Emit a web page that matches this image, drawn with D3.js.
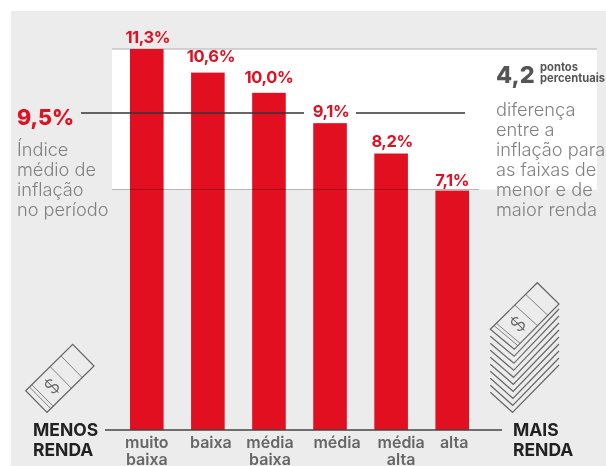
<!DOCTYPE html>
<html>
<head>
<meta charset="utf-8">
<script src="https://cdn.jsdelivr.net/npm/d3@7"></script>
<style>
  html, body { margin: 0; padding: 0; background: #fff; }
  svg { display: block; font-family: Inter, sans-serif; filter: blur(0.35px); }
</style>
</head>
<body>
<div id="chart"></div>
<script>
const categories = ["muito baixa", "baixa", "média baixa", "média", "média alta", "alta"];
const values = [11.3, 10.6, 10.0, 9.1, 8.2, 7.1];
const valueLabels = ["11,3%", "10,6%", "10,0%", "9,1%", "8,2%", "7,1%"];
const averageLabel = "9,5%";
const averageLineLevel = 9.4; // where the line sits in the picture
const averageText = ["Índice", "médio de", "inflação", "no período"];
const gapText = ["diferença", "entre a", "inflação para", "as faixas de", "menor e de", "maior renda"];

const red = "#e20f20";
const width = 606, height = 466;
const baseY = 430;

const svg = d3.select("#chart").append("svg")
  .attr("width", width)
  .attr("height", height);

const x = d3.scaleBand().domain(categories).range([130, 469]).paddingInner(0.45).paddingOuter(0);
const y = d3.scaleLinear().domain([0, 11.3]).range([baseY, 49]);

// backgrounds
svg.append("rect").attr("x", 11).attr("y", 11).attr("width", 595).attr("height", 455).attr("fill", "#ececec");
svg.append("rect").attr("x", 112).attr("y", y(11.3)).attr("width", 485).attr("height", y(7.1) - y(11.3) - 1).attr("fill", "#fff");
svg.append("line").attr("x1", 112).attr("x2", 597).attr("y1", 49).attr("y2", 49).attr("stroke", "#c6c6c6").attr("stroke-width", 1.5);

// bars
svg.selectAll("rect.bar").data(values).join("rect")
  .attr("class", "bar")
  .attr("x", (d, i) => x(categories[i]))
  .attr("y", d => y(d))
  .attr("width", x.bandwidth())
  .attr("height", d => baseY - y(d))
  .attr("fill", red);

// lower edge of the white band
svg.append("line").attr("x1", 112).attr("x2", 479).attr("y1", 189.5).attr("y2", 189.5)
  .attr("stroke", "#000").attr("stroke-opacity", 0.27).attr("stroke-width", 1.2);

// average line, broken around the 9,1% label
[[81, 304], [356, 465]].forEach(([a, b]) => {
  svg.append("line").attr("x1", a).attr("x2", b).attr("y1", y(averageLineLevel)).attr("y2", y(averageLineLevel))
    .attr("stroke", "#333").attr("stroke-width", 1.4);
});

// value labels, each one sits a little differently over its bar
const valueNudgeX = [1, 3, 0, 1, 1, 0];
const valueNudgeY = [6, 11, 10, 6.5, 6.5, 4.5];
svg.selectAll("text.val").data(values).join("text")
  .attr("class", "val")
  .attr("x", (d, i) => x(categories[i]) + x.bandwidth() / 2 + valueNudgeX[i])
  .attr("y", (d, i) => y(d) - valueNudgeY[i])
  .attr("text-anchor", "middle")
  .attr("font-size", 16.5)
  .attr("font-weight", 700)
  .attr("letter-spacing", -0.4)
  .attr("fill", red)
  .text((d, i) => valueLabels[i]);

// axis
const axis = d3.axisBottom(x).tickSize(0).tickPadding(0);
const axisG = svg.append("g").attr("transform", `translate(0,${baseY})`).call(axis);
axisG.select(".domain").remove();
svg.append("line").attr("x1", 105).attr("x2", 502).attr("y1", baseY).attr("y2", baseY).attr("stroke", "#444").attr("stroke-width", 1.5);

const labelNudge = [0, 3, 1, 7, 10, 2];
axisG.selectAll(".tick text").each(function (d, i) {
  const t = d3.select(this).attr("y", null).attr("dy", null).text(null)
    .attr("font-family", "Inter, sans-serif").attr("font-size", 16).attr("font-weight", 600).attr("fill", "#666");
  d.split(" ").forEach((w, k) => {
    t.append("tspan").attr("x", labelNudge[i]).attr("y", 18 + k * 17).text(w);
  });
});

function textBlock(lines, px, py, lh, size, weight, color, anchor) {
  svg.append("g").selectAll("text").data(lines).join("text")
    .attr("x", px)
    .attr("y", (d, i) => py + i * lh)
    .attr("font-size", size)
    .attr("font-weight", weight)
    .attr("fill", color)
    .attr("text-anchor", anchor || "start")
    .text(d => d);
}

textBlock([averageLabel], 17, 125, 0, 21.5, 800, red);
textBlock(averageText, 17, 156, 20, 18.2, 300, "#808080");
textBlock(["4,2"], 496, 83, 0, 23.5, 800, "#555");
textBlock(["pontos", "percentuais"], 540, 71, 11, 11.2, 700, "#555");
textBlock(gapText, 496, 116, 20, 18.2, 300, "#808080");
textBlock(["MENOS", "RENDA"], 33, 436, 19.5, 17.5, 700, "#222");
textBlock(["MAIS", "RENDA"], 513, 436, 19.5, 17.5, 700, "#222");

// money icons
const iconStroke = "#666";
function bill(g, c) {
  // c: left, top, right, bottom corners
  const [l, t, r, b] = c;
  const lerp = (p, q, k) => [p[0] + (q[0] - p[0]) * k, p[1] + (q[1] - p[1]) * k];
  g.append("path").attr("d", d3.line()([l, t, r, b]) + "Z").attr("fill", "#ececec").attr("stroke", iconStroke).attr("stroke-width", 1.2);
  [0.08, 0.13, 0.52, 0.75].forEach(k => {
    const p = lerp(l, t, k), q = lerp(b, r, k);
    g.append("path").attr("d", d3.line()([p, q])).attr("stroke", iconStroke).attr("stroke-width", 0.8).attr("fill", "none");
  });
  const cx = (l[0] + b[0]) / 2 + (t[0] - l[0]) * 0.33;
  const cy = (l[1] + b[1]) / 2 + (t[1] - l[1]) * 0.33;
  g.append("text").attr("transform", `translate(${cx},${cy}) rotate(-45)`)
    .attr("text-anchor", "middle").attr("dy", "0.36em")
    .attr("font-size", 20).attr("font-weight", 300).attr("fill", iconStroke).text("$");
}

const iconL = svg.append("g");
bill(iconL, [[25.7, 390.7], [72.7, 344.3], [94, 366], [47, 412.3]]);

const iconR = svg.append("g");
const layers = d3.range(9, 0, -1);
layers.forEach(k => {
  const dy = k * 7;
  iconR.append("path")
    .attr("d", d3.line()([[490.3, 329.3 + dy], [514.3 - k * 0.2, 349.3 + dy], [559, 304 + dy - 2]]))
    .attr("fill", "#ececec").attr("stroke", iconStroke).attr("stroke-width", 1.2);
});
bill(iconR, [[490.3, 329.3], [537.3, 282.7], [559, 304], [514.3, 349.3]]);
</script>
</body>
</html>
